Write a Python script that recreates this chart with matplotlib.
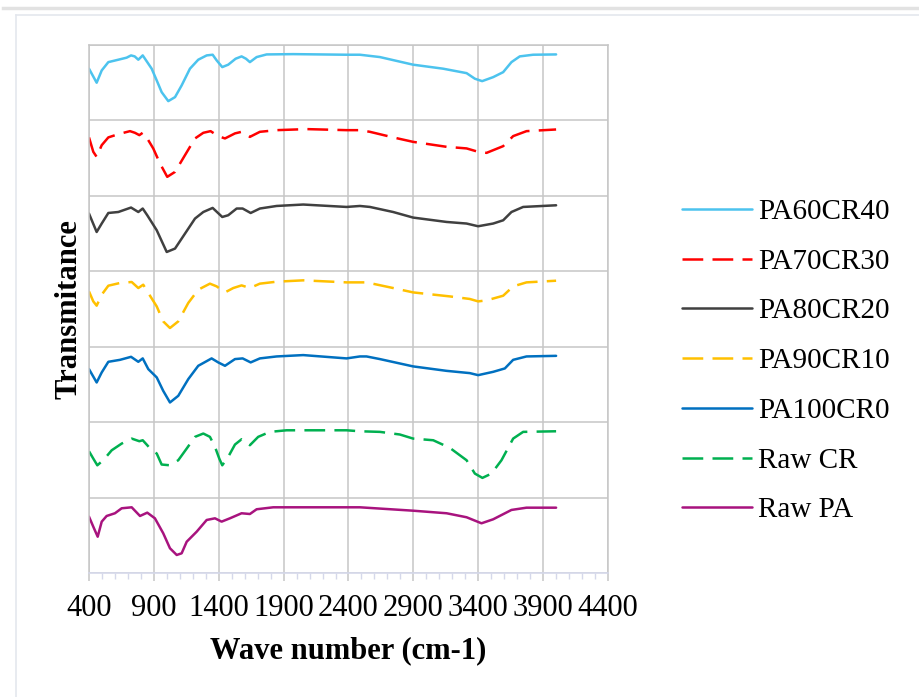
import matplotlib
matplotlib.use("Agg")
import matplotlib.pyplot as plt
from matplotlib.lines import Line2D
from matplotlib.ticker import FixedLocator, MultipleLocator, NullLocator

plt.rcParams['font.family'] = ['Liberation Serif', 'DejaVu Serif']

# FTIR spectra; t is transmittance inside each band (0..1)
labels = ["PA60CR40", "PA70CR30", "PA80CR20", "PA90CR10", "PA100CR0", "Raw CR", "Raw PA"]
offsets = [6, 5, 4, 3, 2, 1, 0]
x_ticks = [400, 900, 1400, 1900, 2400, 2900, 3400, 3900, 4400]

wn_pa60 = [400, 459, 498, 549, 626, 690, 724, 752, 780, 814, 849, 883, 922, 960, 1011, 1063, 1114, 1178, 1242, 1307,
           1353, 1384, 1427, 1473, 1530, 1576, 1610, 1640, 1692, 1769, 1974, 2385, 2488, 2642, 2898, 3129, 3310, 3374,
           3430, 3515, 3592, 3656, 3720, 3823, 4000]
t_pa60 = [.686, .50, .663, .773, .805, .832, .862, .849, .805, .862, .773, .686, .53, .375, .256, .309, .464, .686, .805,
          .862, .871, .796, .707, .739, .818, .849, .818, .773, .84, .875, .879, .871, .871, .84, .739, .686, .627, .553,
          .521, .574, .64, .773, .849, .871, .875]

wn_pa70 = [400, 433, 459, 498, 549, 626, 716, 754, 788, 814, 849, 895, 947, 1003, 1063, 1140, 1217, 1281, 1337, 1396,
           1448, 1525, 1576, 1640, 1717, 1846, 2077, 2385, 2488, 2565, 2744, 2898, 3156, 3310, 3399, 3464, 3592, 3669,
           3772, 4000]
t_pa70 = [.775, .584, .517, .672, .775, .818, .858, .836, .805, .836, .761, .629, .43, .252, .318, .54, .761, .836, .858,
          .792, .761, .828, .849, .782, .849, .871, .885, .871, .871, .849, .775, .716, .65, .629, .584, .57, .659, .792,
          .858, .88]

wn_pa80 = [400, 459, 498, 549, 626, 724, 780, 814, 849, 922, 999, 1063, 1140, 1217, 1281, 1353, 1427, 1473, 1538, 1584,
           1646, 1717, 1846, 2051, 2385, 2488, 2565, 2744, 2898, 3156, 3310, 3399, 3515, 3592, 3656, 3746, 4000]
t_pa80 = [.765, .521, .633, .773, .786, .845, .786, .832, .743, .544, .256, .301, .5, .699, .786, .84, .72, .743, .832,
          .832, .773, .832, .866, .885, .853, .866, .853, .786, .712, .654, .633, .597, .633, .676, .786, .853, .875]

wn_pa90 = [400, 433, 459, 498, 549, 639, 729, 780, 818, 857, 922, 972, 1024, 1088, 1165, 1242, 1332, 1384, 1448, 1512,
           1576, 1640, 1717, 1846, 2051, 2385, 2539, 2744, 2898, 3181, 3335, 3399, 3464, 3592, 3669, 3772, 4000]
t_pa90 = [.733, .601, .544, .69, .809, .845, .858, .778, .822, .712, .534, .336, .248, .336, .58, .756, .836, .80, .72,
          .778, .813, .778, .836, .862, .88, .853, .853, .778, .72, .667, .633, .601, .614, .676, .80, .853, .875]

wn_pa100 = [400, 459, 498, 549, 639, 724, 780, 814, 857, 922, 972, 1024, 1088, 1165, 1242, 1345, 1396, 1448, 1525, 1584,
            1646, 1717, 1846, 2051, 2385, 2488, 2539, 2642, 2898, 3156, 3335, 3399, 3515, 3605, 3669, 3772, 4000]
t_pa100 = [.703, .526, .659, .80, .826, .866, .80, .845, .703, .593, .415, .261, .349, .57, .747, .845, .792, .747, .836,
           .845, .792, .845, .871, .889, .845, .871, .871, .836, .739, .68, .65, .623, .667, .712, .826, .871, .879]

wn_cr = [400, 433, 464, 510, 575, 652, 729, 788, 814, 849, 883, 922, 960, 1024, 1088, 1153, 1217, 1281, 1332, 1371,
         1404, 1427, 1473, 1525, 1576, 1615, 1640, 1704, 1794, 1923, 2385, 2488, 2642, 2796, 2898, 3053, 3181, 3310,
         3374, 3432, 3502, 3579, 3669, 3746, 4000]
t_cr = [.614, .517, .428, .495, .627, .716, .782, .747, .76, .694, .627, .584, .438, .428, .495, .65, .805, .849, .805,
        .672, .517, .428, .54, .703, .773, .739, .694, .805, .871, .892, .892, .879, .871, .836, .782, .76, .659, .495,
        .318, .261, .318, .495, .782, .871, .879]

wn_pa = [400, 433, 467, 498, 536, 600, 652, 729, 793, 849, 908, 972, 1024, 1076, 1114, 1153, 1230, 1307, 1371, 1422,
         1486, 1576, 1640, 1692, 1820, 2385, 2488, 2898, 3156, 3310, 3425, 3515, 3656, 3772, 4000]
t_pa = [.747, .614, .481, .681, .756, .792, .858, .871, .756, .80, .725, .527, .328, .239, .261, .415, .548, .703, .725,
        .681, .725, .792, .782, .845, .871, .871, .871, .826, .792, .739, .659, .712, .836, .866, .866]

xs = [wn_pa60, wn_pa70, wn_pa80, wn_pa90, wn_pa100, wn_cr, wn_pa]
ys = [t_pa60, t_pa70, t_pa80, t_pa90, t_pa100, t_cr, t_pa]
colors = ["#4CC3EE", "#FF0000", "#404040", "#FFC000", "#0070C0", "#00B050", "#A8137E"]
dashed = [False, True, False, True, False, True, False]

fig = plt.figure(figsize=(9.19, 6.97), dpi=100)
ax = fig.add_axes([89 / 919, 1 - 573 / 697, 519 / 919, 528 / 697])

for x, t, off, c, d, lab in zip(xs, ys, offsets, colors, dashed, labels):
    y = [v + off for v in t]
    if d:
        ax.plot(x, y, color=c, lw=1.8, label=lab, dashes=(8.3, 3.7))
    else:
        ax.plot(x, y, color=c, lw=1.8, label=lab, solid_capstyle='round', solid_joinstyle='round')

ax.set_xlim(400, 4400)
ax.set_ylim(0, 7)
ax.xaxis.set_major_locator(FixedLocator(x_ticks))
ax.xaxis.set_minor_locator(FixedLocator([v for v in range(400, 4401, 100) if v not in x_ticks]))
ax.yaxis.set_major_locator(MultipleLocator(1))
ax.yaxis.set_minor_locator(NullLocator())
ax.set_yticklabels([])
ax.tick_params(axis='y', length=0)
ax.tick_params(axis='x', which='major', length=6, width=1.1, color='#C6C6C6', labelsize=22, pad=9)
ax.tick_params(axis='x', which='minor', length=4, width=1.0, color='#D5D8EA')
ax.grid(True, which='major', color='#C6C6C6', lw=1.1)
ax.set_axisbelow(True)
for side in ['top', 'right', 'left']:
    ax.spines[side].set_color('#C6C6C6')
    ax.spines[side].set_linewidth(1.1)
ax.spines['bottom'].set_color('#D5D8EA')
ax.spines['bottom'].set_linewidth(1.2)

ax.set_xlabel("Wave number (cm-1)", fontsize=22, fontweight='bold')
ax.xaxis.label.set_va('center')
ax.xaxis.set_label_coords(0.5, (573 - 651) / 528)
ax.set_ylabel("Transmitance", fontsize=22, fontweight='bold')
ax.yaxis.label.set_va('center')
ax.yaxis.set_label_coords((69 - 89) / 519, 0.5)

fig.legend(loc='center left', bbox_to_anchor=(682 / 919, 1 - 361 / 697), frameon=False, fontsize=21,
           handlelength=2.4, handletextpad=0.22, labelspacing=0.8, borderpad=0, borderaxespad=0)

# chart frame bits around the picture
fig.add_artist(Line2D([3 / 919, 1], [1 - 7.5 / 697] * 2, color='#E2E2E2', lw=2.5))
fig.add_artist(Line2D([16 / 919, 16 / 919], [0, 1 - 15 / 697], color='#E4E7EE', lw=1.2))
fig.add_artist(Line2D([16 / 919, 1], [1 - 15 / 697] * 2, color='#E4E7EE', lw=1.2))

fig.savefig("out.png", dpi=100)
